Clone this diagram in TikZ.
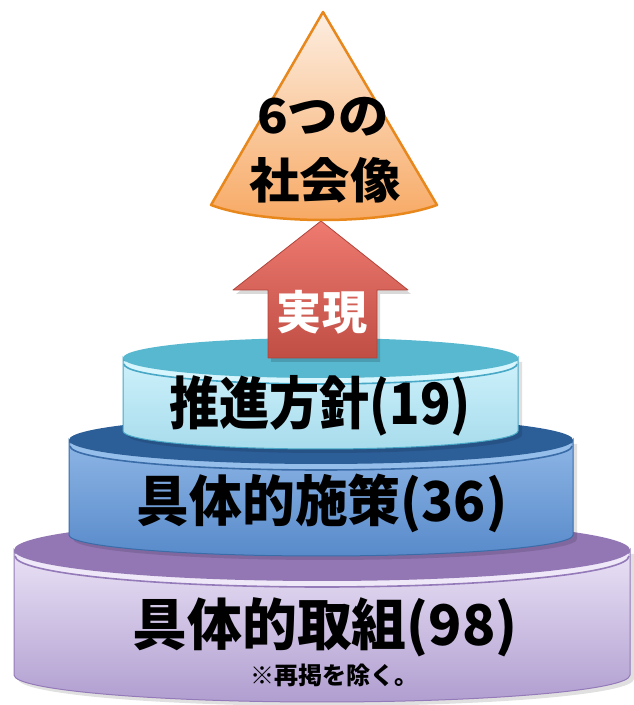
\documentclass[tikz,border=0pt]{standalone}
\usepackage{graphicx}
\usepackage{fontspec}
\newfontfamily\jp{Noto Sans CJK JP}
\definecolor{triTop}{RGB}{253,238,225}
\definecolor{triBot}{RGB}{247,168,98}
\definecolor{triEdge}{RGB}{232,135,28}
\definecolor{arrTop}{RGB}{238,122,112}
\definecolor{arrBot}{RGB}{192,78,68}
\definecolor{arrEdge}{RGB}{176,68,58}
\definecolor{lbSideT}{RGB}{205,241,251}
\definecolor{lbSideB}{RGB}{168,220,236}
\definecolor{lbFace}{RGB}{88,184,208}
\definecolor{lbEdge}{RGB}{72,168,198}
\definecolor{lbBevel}{RGB}{215,245,252}
\definecolor{bSideT}{RGB}{142,182,230}
\definecolor{bSideB}{RGB}{88,138,202}
\definecolor{bFace}{RGB}{44,94,152}
\definecolor{bEdge}{RGB}{58,108,168}
\definecolor{bBevel}{RGB}{150,190,235}
\definecolor{pSideT}{RGB}{234,226,246}
\definecolor{pSideB}{RGB}{176,158,208}
\definecolor{pFace}{RGB}{146,119,180}
\definecolor{pEdge}{RGB}{148,122,184}
\definecolor{pBevel}{RGB}{238,232,248}
\tikzset{
  lbl/.style={text=black, inner sep=0pt},
  shadowish/.style={fill=black, opacity=0.12},
}
% cylinder: #1 cx, #2 rx, #3 yt, #4 ryt, #5 yb, #6 ryb, #7 prefix
\newcommand\mycyl[7]{%
  \fill[shadowish] (#1-#2+4,#3-4) -- (#1-#2+4,#5-4) arc[start angle=180,end angle=360,x radius=#2,y radius=#6] -- (#1+#2+4,#3-4) -- cycle;
  \path[top color=#7SideT, bottom color=#7SideB, draw=#7Edge, line width=1pt]
    (#1-#2,#3) -- (#1-#2,#5) arc[start angle=180,end angle=360,x radius=#2,y radius=#6]
    -- (#1+#2,#3) arc[start angle=0,end angle=-180,x radius=#2,y radius=#4] -- cycle;
  \fill[#7Bevel] (#1,#3-6) ellipse[x radius=#2-1, y radius=#4];
  \draw[#7Edge, line width=1.6pt] (#1+#2-1,#3-6) arc[start angle=0,end angle=-180,x radius=#2-1,y radius=#4];
  \fill[#7Face] (#1,#3) ellipse[x radius=#2, y radius=#4];
}
\begin{document}
\begin{tikzpicture}[x=1pt,y=1pt]
\useasboundingbox (0,0) rectangle (634,705);
% purple cylinder
\mycyl{322}{308}{155}{31}{30}{27}{p}
% blue cylinder
\mycyl{321}{252}{265}{24}{170}{21}{b}
% light blue cylinder
\mycyl{320.5}{197.5}{347}{20}{274}{18}{lb}
% arrow
\coordinate (tip) at (321,484);
\fill[black, opacity=0.15] (324,480) -- (411,411) -- (380,411) -- (380,343) -- (271,343) -- (271,411) -- (236,411) -- cycle;
\path[top color=arrTop, bottom color=arrBot, draw=arrEdge, line width=0.8pt, line join=round]
  (tip) -- (408,415) -- (377,415) -- (377,347) -- (268,347) -- (268,415) -- (233,415) -- cycle;
% triangle
\path[top color=triTop, bottom color=triBot, draw=triEdge, line width=2.5pt, line join=round]
  (323,693) -- (437,500) .. controls (382,480) and (264,480) .. (211,500) -- cycle;
% texts
\node[lbl, font=\jp\bfseries\fontsize{48}{52}\selectfont] (t1) at (323,588) {\scalebox{1.05}[1]{6つの}};
\node[lbl, font=\jp\bfseries\fontsize{48}{52}\selectfont] (t2) at (325,525) {\scalebox{1.05}[1]{社会像}};
\node[lbl, text=white, font=\jp\bfseries\fontsize{46}{50}\selectfont] (arr) at (322,393) {\scalebox{0.98}[1]{実現}};
\node[lbl, font=\jp\bfseries\fontsize{57}{60}\selectfont] (l1) at (320,299) {\scalebox{0.88}[1]{推進方針(19)}};
\node[lbl, font=\jp\bfseries\fontsize{55}{60}\selectfont] (l2) at (322,202) {\scalebox{0.96}[1]{具体的施策(36)}};
\node[lbl, font=\jp\bfseries\fontsize{56}{60}\selectfont] (l3) at (325,78) {\scalebox{0.98}[1]{具体的取組(98)}};
\node[lbl, font=\jp\bfseries\fontsize{24}{26}\selectfont] (l4) at (334,30) {※再掲を除く。};
\end{tikzpicture}
\end{document}
